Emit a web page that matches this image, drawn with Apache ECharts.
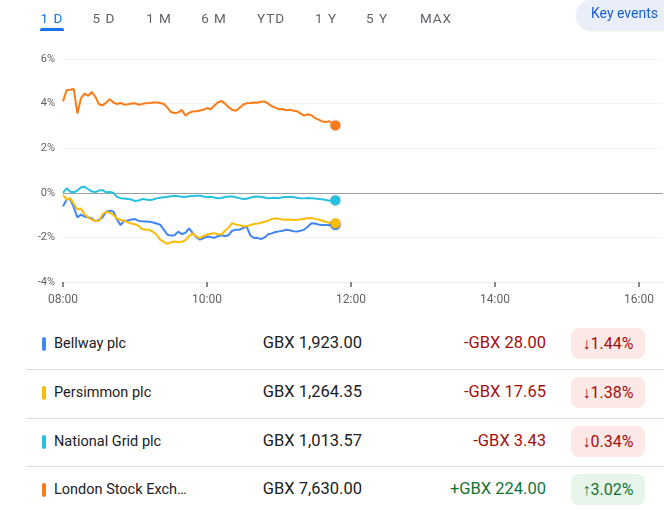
<!DOCTYPE html>
<html>
<head>
<meta charset="utf-8">
<script src="https://cdn.jsdelivr.net/npm/echarts/dist/echarts.min.js"></script>
<style>
  html, body { margin:0; padding:0; background:#fff; width:664px; height:510px; overflow:hidden; font-family: Roboto, "Noto Sans", Arial, sans-serif; }
  #chart { position:absolute; left:0; top:0; width:664px; height:320px; }
  .tab { position:absolute; top:10px; font-size:13.5px; color:#5f6368; letter-spacing:1px; transform:translateX(-50%); white-space:nowrap; }
  .tab.active { color:#1a73e8; }
  #underline { position:absolute; left:40px; top:28px; width:24px; height:3px; background:#1a73e8; border-radius:2px 2px 0 0; }
  #key { position:absolute; left:576px; top:0px; width:120px; height:30px; border-radius:15px; background:#e9eef9; box-shadow:0 1px 2px rgba(60,64,67,0.12); }
  #key span { position:absolute; left:15px; top:5px; font-size:14px; color:#1a5fd0; white-space:nowrap; }
  .row { position:absolute; left:0; width:664px; height:49px; }
  .bar { position:absolute; left:42px; width:3.5px; height:14px; top:17px; border-radius:2px; }
  .name { position:absolute; left:54px; top:15px; font-size:14.5px; color:#202124; white-space:nowrap; }
  .price { position:absolute; right:302px; top:13px; font-size:16.5px; color:#202124; white-space:nowrap; }
  .chg { position:absolute; right:118px; top:13px; font-size:16.5px; white-space:nowrap; }
  .badge { position:absolute; left:571px; width:74px; height:31px; top:8px; border-radius:8px; font-size:16px; line-height:31px; text-align:center; white-space:nowrap; }
  .sep { position:absolute; left:26px; width:640px; height:1px; background:#dadce0; }
</style>
</head>
<body>
<div id="chart"></div>
<div id="tabs"></div>
<div id="underline"></div>
<div id="key"><span>Key events</span></div>
<div id="table"></div>
<script>
// ---- Data ----
const tabLabels = ["1 D", "5 D", "1 M", "6 M", "YTD", "1 Y", "5 Y", "MAX"];
const tabCenters = [52, 104, 159, 214, 271, 326, 377, 436];

const yTicks = [-4, -2, 0, 2, 4, 6];
// x tick positions, minutes after 08:00
const xTicks = [0, 120, 240, 360, 480];

// minutes after 08:00
const times = [0,3,6,9,12,15,18,21,24,27,
  30,33,36,39,42,45,48,51,54,57,
  60,63,66,69,72,75,78,81,84,87,
  90,93,96,99,102,105,108,111,114,117,
  120,123,126,129,132,135,138,141,144,147,
  150,153,156,159,162,165,168,171,174,177,
  180,183,186,189,192,195,198,201,204,207,
  210,213,216,219,222,225,227];

const bellway = [-0.61,-0.3,-0.28,-0.65,-1.1,-0.98,-1.07,-1.1,-1.15,-1.27,
  -1.22,-1.1,-0.85,-0.8,-0.84,-1.2,-1.45,-1.25,-1.24,-1.2,
  -1.18,-1.26,-1.28,-1.29,-1.3,-1.33,-1.38,-1.43,-1.65,-1.88,
  -1.92,-1.9,-1.74,-1.85,-1.8,-1.6,-1.8,-1.98,-2.1,-2.04,
  -1.96,-1.98,-2.02,-1.95,-1.9,-1.94,-1.9,-1.7,-1.66,-1.66,
  -1.58,-1.51,-1.9,-2.03,-2.02,-2.08,-2.0,-1.86,-1.82,-1.76,
  -1.73,-1.7,-1.66,-1.68,-1.72,-1.74,-1.7,-1.65,-1.52,-1.37,
  -1.38,-1.42,-1.44,-1.44,-1.45,-1.44,-1.44];

const persimmon = [-0.09,-0.31,-0.24,-0.5,-0.75,-0.7,-0.97,-1.1,-1.21,-1.25,
  -1.27,-0.95,-0.85,-0.9,-0.99,-1.15,-1.22,-1.25,-1.32,-1.38,
  -1.41,-1.48,-1.63,-1.66,-1.66,-1.75,-1.88,-2.1,-2.2,-2.29,
  -2.22,-2.18,-2.22,-2.2,-2.12,-1.95,-1.82,-1.95,-2.03,-1.94,
  -1.88,-1.84,-1.81,-1.86,-1.87,-1.7,-1.55,-1.36,-1.42,-1.45,
  -1.5,-1.5,-1.45,-1.4,-1.38,-1.34,-1.3,-1.25,-1.18,-1.14,
  -1.17,-1.2,-1.21,-1.2,-1.22,-1.21,-1.2,-1.16,-1.14,-1.13,
  -1.17,-1.2,-1.25,-1.3,-1.34,-1.37,-1.38];

const nationalGrid = [0.0,0.2,0.05,0.02,0.1,0.25,0.27,0.16,0.06,0.03,
  0.1,0.12,0.02,0.04,0.0,-0.18,-0.24,-0.26,-0.28,-0.3,
  -0.37,-0.35,-0.28,-0.3,-0.32,-0.3,-0.25,-0.22,-0.2,-0.18,
  -0.15,-0.13,-0.15,-0.18,-0.19,-0.15,-0.14,-0.13,-0.13,-0.17,
  -0.19,-0.18,-0.21,-0.24,-0.23,-0.19,-0.17,-0.17,-0.2,-0.24,
  -0.28,-0.27,-0.22,-0.18,-0.17,-0.19,-0.21,-0.24,-0.23,-0.22,
  -0.24,-0.2,-0.19,-0.18,-0.19,-0.22,-0.24,-0.25,-0.23,-0.24,
  -0.26,-0.28,-0.29,-0.32,-0.36,-0.34,-0.34];

const lse = [4.1,4.6,4.62,4.65,3.55,4.25,4.45,4.35,4.52,4.3,
  3.97,3.92,4.05,4.2,4.05,3.98,4.03,3.95,3.97,4.0,
  4.02,3.95,3.98,4.02,4.03,4.05,4.05,4.03,3.98,3.82,
  3.62,3.58,3.6,3.72,3.47,3.58,3.65,3.66,3.69,3.72,
  3.8,3.75,3.9,4.05,4.12,4.0,3.84,3.72,3.68,3.8,
  3.95,4.02,4.03,4.05,4.04,4.08,4.1,4.0,3.88,3.82,
  3.75,3.76,3.7,3.73,3.68,3.66,3.55,3.46,3.52,3.48,
  3.35,3.28,3.2,3.18,3.21,3.1,3.02];

const names = ["Bellway plc", "Persimmon plc", "National Grid plc", "London Stock Exch\u2026"];
const prices = ["GBX 1,923.00", "GBX 1,264.35", "GBX 1,013.57", "GBX 7,630.00"];
const changes = ["-GBX 28.00", "-GBX 17.65", "-GBX 3.43", "+GBX 224.00"];
const pcts = ["\u21931.44%", "\u21931.38%", "\u21930.34%", "\u21913.02%"];
const colors = ["#4285f4", "#fbbc04", "#24c1e0", "#fa7b17"];
const seriesValues = [bellway, persimmon, nationalGrid, lse];

// ---- Tabs ----
const tabsEl = document.getElementById('tabs');
tabLabels.forEach((t, i) => {
  const d = document.createElement('div');
  d.className = 'tab' + (i === 0 ? ' active' : '');
  d.style.left = tabCenters[i] + 'px';
  d.textContent = t;
  tabsEl.appendChild(d);
});

// ---- Table ----
const rowTops = [320, 369, 418, 466];
const tableEl = document.getElementById('table');
names.forEach((n, i) => {
  const up = changes[i].startsWith('+');
  const r = document.createElement('div');
  r.className = 'row';
  r.style.top = rowTops[i] + 'px';
  r.innerHTML =
    '<div class="bar" style="background:' + colors[i] + '"></div>' +
    '<div class="name">' + n + '</div>' +
    '<div class="price">' + prices[i] + '</div>' +
    '<div class="chg" style="color:' + (up ? '#137333' : '#a50e0e') + '">' + changes[i] + '</div>' +
    '<div class="badge" style="background:' + (up ? '#e6f4ea' : '#fce8e6') + ';color:' + (up ? '#137333' : '#a50e0e') + '">' + pcts[i] + '</div>';
  tableEl.appendChild(r);
  if (i < names.length - 1) {
    const s = document.createElement('div');
    s.className = 'sep';
    s.style.top = (rowTops[i + 1]) + 'px';
    tableEl.appendChild(s);
  }
});

// ---- Chart ----
const chart = echarts.init(document.getElementById('chart'), null, { renderer: 'canvas' });
function fmtTime(v) {
  const h = 8 + Math.floor(v / 60), m = v % 60;
  return (h < 10 ? '0' : '') + h + ':' + (m < 10 ? '0' : '') + m;
}
const series = seriesValues.map((vals, i) => {
  const last = vals.length - 1;
  const s = {
    type: 'line',
    name: names[i],
    data: times.map((t, k) => [t, vals[k]]),
    showSymbol: false,
    symbol: 'none',
    lineStyle: { color: colors[i], width: 2 },
    itemStyle: { color: colors[i] },
    z: 3 + i,
    markPoint: {
      symbol: 'circle',
      symbolSize: 10,
      silent: true,
      label: { show: false },
      itemStyle: { color: colors[i], shadowBlur: 2, shadowColor: 'rgba(0,0,0,0.35)' },
      data: [{ coord: [times[last], vals[last]] }]
    }
  };
  if (i === 0) {
    s.markLine = {
      silent: true,
      symbol: 'none',
      label: { show: false },
      lineStyle: { color: '#9aa0a6', width: 1, type: 'solid' },
      data: [{ yAxis: 0 }],
      z: 2
    };
  }
  return s;
});

chart.setOption({
  animation: false,
  grid: { left: 63, top: 59, width: 600, height: 223 },
  xAxis: {
    type: 'value',
    min: 0, max: 500, interval: 120,
    axisLine: { show: true, onZero: false, lineStyle: { color: '#eceef0', width: 1 } },
    axisTick: { show: true, length: 5, customValues: xTicks, lineStyle: { color: '#5f6368', width: 1.5 } },
    axisLabel: {
      color: '#5f6368', fontSize: 12, margin: 12, fontFamily: 'Roboto',
      customValues: xTicks,
      formatter: v => fmtTime(v)
    },
    splitLine: { show: false }
  },
  yAxis: {
    type: 'value',
    min: yTicks[0], max: yTicks[yTicks.length - 1], interval: 2,
    axisLine: { show: false },
    axisTick: { show: false },
    axisLabel: { color: '#5f6368', fontSize: 11, margin: 8, fontFamily: 'Roboto', formatter: '{value}%' },
    splitLine: { show: true, lineStyle: { color: '#f1f3f4', width: 1 } }
  },
  series: series
});
</script>
</body>
</html>
